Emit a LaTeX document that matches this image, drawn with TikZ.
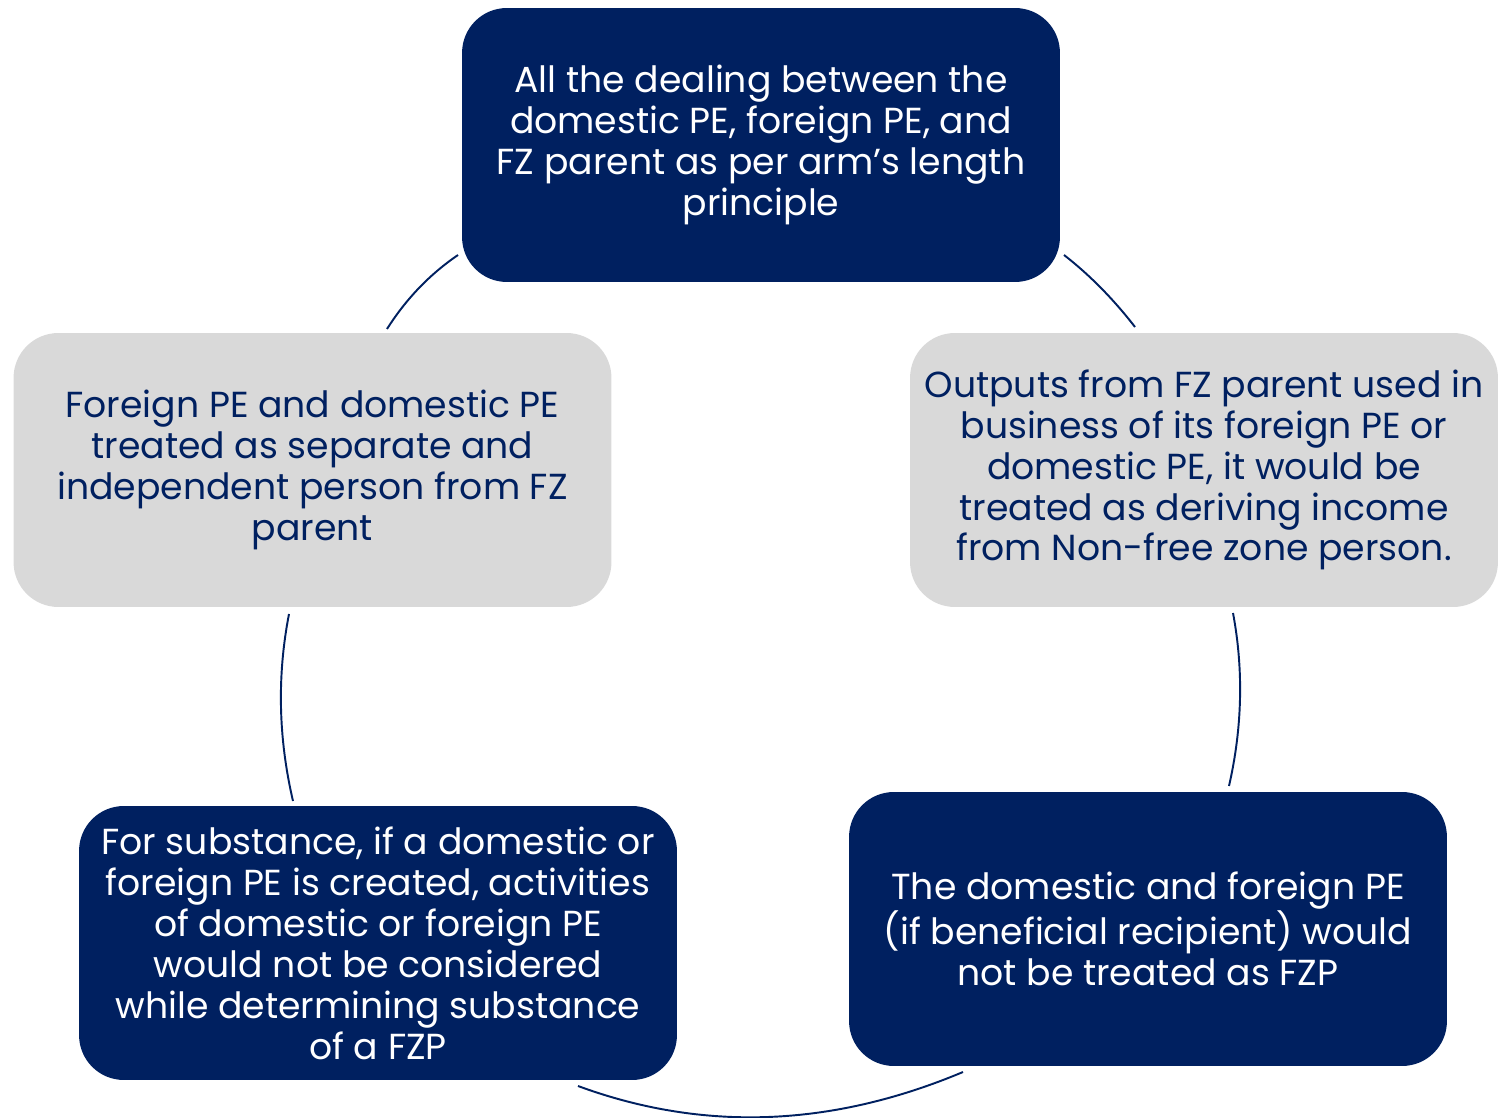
\documentclass[tikz,border=0pt]{standalone}
\usepackage{fontspec}
\setmainfont{Poppins}
\definecolor{navy}{RGB}{0,32,96}
\definecolor{boxgray}{RGB}{217,217,217}
\begin{document}
\begin{tikzpicture}[x=0.02cm,y=-0.02cm,
  card/.style={rounded corners=25.5pt, minimum width=11.96cm, minimum height=5.48cm,
    align=center, inner sep=0pt, font=\fontsize{20.6}{23.3}\selectfont},
  darkcard/.style={card, fill=navy, text=white},
  lightcard/.style={card, fill=boxgray, text=navy},
  link/.style={draw=navy, line width=1.1pt}]
\useasboundingbox (0,0) rectangle (1499,1118);

% boxes of the cycle
\node[darkcard] (top) at (761,145) {All the dealing between the\\domestic PE, foreign PE, and\\FZ parent as per arm’s length\\principle};
\node[lightcard, minimum width=11.76cm] (right) at (1204,470) {Outputs from FZ parent used in\\business of its foreign PE or\\domestic PE, it would be\\treated as deriving income\\from Non-free zone person.};
\node[darkcard] (botright) at (1148,929) {The domestic and foreign PE\\(if beneficial recipient) would\\not be treated as FZP};
\node[darkcard] (botleft) at (378,943) {For substance, if a domestic or\\foreign PE is created, activities\\of domestic or foreign PE\\would not be considered\\while determining substance\\of a FZP};
\node[lightcard] (left) at (312.5,470) {Foreign PE and domestic PE\\treated as separate and\\independent person from FZ\\parent};

% end points of the connecting arcs
\coordinate (a1) at (458,255);  \coordinate (a2) at (387,329);
\coordinate (b1) at (1064,255); \coordinate (b2) at (1135,327);
\coordinate (c1) at (289,614);  \coordinate (c2) at (293,801);
\coordinate (d1) at (1233,613); \coordinate (d2) at (1229,786);
\coordinate (e1) at (578,1086); \coordinate (e2) at (963,1072);

% arcs of the cycle
\draw[link] (a1) .. controls (429.7,274.3) and (406,299) .. (a2);
\draw[link] (b1) .. controls (1089.7,275) and (1113.3,299) .. (b2);
\draw[link] (c1) .. controls (277,675.7) and (278.3,738) .. (c2);
\draw[link] (d1) .. controls (1243.7,670) and (1242.3,727.7) .. (d2);
\draw[link] (e1) .. controls (703,1132) and (831.3,1127.3) .. (e2);
\end{tikzpicture}
\end{document}
